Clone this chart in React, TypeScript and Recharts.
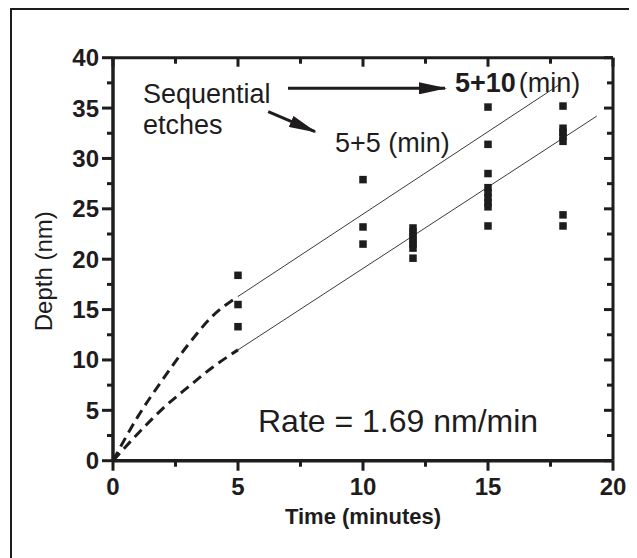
import React from 'react';
import { ComposedChart, XAxis, YAxis, Scatter, Line, ReferenceLine, ReferenceDot } from 'recharts';

const INK = '#1e1c1d';
const FONT = '"Liberation Sans", Arial, Helvetica, sans-serif';

// axis ticks
const xTicks = [0, 2.5, 5, 7.5, 10, 12.5, 15, 17.5, 20];
const yTicks = [0, 2.5, 5, 7.5, 10, 12.5, 15, 17.5, 20, 22.5, 25, 27.5, 30, 32.5, 35, 37.5, 40];

// measured depths (nm) at each etch time (minutes)
const times = [5, 10, 12, 15, 18];
const depthsAt5 = [18.4, 15.5, 13.3];
const depthsAt10 = [27.9, 23.2, 21.5];
const depthsAt12 = [23.1, 22.7, 22.3, 21.9, 21.5, 21.1, 20.1];
const depthsAt15 = [35.1, 31.4, 28.5, 27.1, 26.6, 26.1, 25.6, 25.2, 23.3];
const depthsAt18 = [35.2, 33.0, 32.6, 32.2, 31.7, 24.4, 23.3];
const depthGroups = [depthsAt5, depthsAt10, depthsAt12, depthsAt15, depthsAt18];

// linear fits (solid)
const upperFitX = [5, 17.9];
const upperFitY = [16.3, 37.4];
const lowerFitX = [5, 19.35];
const lowerFitY = [11.0, 34.2];

// initial etch curves (dashed)
const earlyX = [0, 1, 2, 3, 4, 5];
const upperEarlyY = [0, 4.4, 8.1, 11.5, 14.4, 16.3];
const lowerEarlyY = [0, 2.7, 5.2, 7.3, 9.3, 11.0];

const points = times.flatMap((t, i) => depthGroups[i].map((d) => ({ x: t, y: d })));
const zip = (xs: number[], ys: number[]) => xs.map((x, i) => ({ x, y: ys[i] }));
const upperFit = zip(upperFitX, upperFitY);
const lowerFit = zip(lowerFitX, lowerFitY);
const upperEarly = zip(earlyX, upperEarlyY);
const lowerEarly = zip(earlyX, lowerEarlyY);

const BottomTick = (p: any) => {
  const { x, y, payload } = p;
  const major = payload.value % 5 === 0;
  return (
    <g>
      <line x1={x} x2={x} y1={y} y2={y + (major ? 10 : 6)} stroke={INK} strokeWidth={3} />
      {major && (
        <text x={x} y={y + 34} textAnchor="middle" fontSize={24} fontWeight="bold" fill={INK} fontFamily={FONT}>
          {payload.value}
        </text>
      )}
    </g>
  );
};

const LeftTick = (p: any) => {
  const { x, y, payload } = p;
  const major = payload.value % 5 === 0;
  return (
    <g>
      <line x1={x - (major ? 11 : 6)} x2={x} y1={y} y2={y} stroke={INK} strokeWidth={3} />
      {major && (
        <text x={x - 14} y={y + 8.5} textAnchor="end" fontSize={24} fontWeight="bold" fill={INK} fontFamily={FONT}>
          {payload.value}
        </text>
      )}
    </g>
  );
};

const TopTick = (p: any) => {
  const { x, y, payload } = p;
  const major = payload.value % 5 === 0;
  return <line x1={x} x2={x} y1={y} y2={y + (major ? 9 : 6)} stroke={INK} strokeWidth={3} />;
};

const RightTick = (p: any) => {
  const { x, y, payload } = p;
  const major = payload.value % 5 === 0;
  return <line x1={x - (major ? 9 : 6)} x2={x} y1={y} y2={y} stroke={INK} strokeWidth={3} />;
};

const XTitle = (p: any) => {
  const vb = p.viewBox || {};
  return (
    <text x={vb.x + vb.width / 2} y={vb.y + 63} textAnchor="middle" fontSize={22} fontWeight="bold" fill={INK} fontFamily={FONT}>
      Time (minutes)
    </text>
  );
};

const YTitle = (p: any) => {
  const vb = p.viewBox || {};
  const cx = vb.x + vb.width - 61;
  const cy = vb.y + vb.height / 2 + 12;
  return (
    <text x={cx} y={cy} transform={`rotate(-90 ${cx} ${cy})`} textAnchor="middle" fontSize={24} fill={INK} fontFamily={FONT}>
      Depth (nm)
    </text>
  );
};

const Square = (p: any) => <rect x={p.cx - 3.75} y={p.cy - 3.75} width={7.5} height={7.5} fill={INK} />;

const textShape = (content: React.ReactNode, size: number) => (p: any) => (
  <text x={p.cx} y={p.cy} fontSize={size} fill={INK} fontFamily={FONT}>
    {content}
  </text>
);

export default function App() {
  return (
    <div style={{ position: 'relative', width: 629, height: 550, overflow: 'hidden', background: '#fff' }}>
      <div
        style={{
          position: 'absolute',
          left: 2,
          top: 0,
          width: 900,
          height: 900,
          borderLeft: `2px solid ${INK}`,
          borderTop: `2px solid ${INK}`,
        }}
      />
      <div style={{ position: 'absolute', left: 0, top: 0 }}>
        <ComposedChart width={629} height={550} margin={{ top: 39.7, right: 14, bottom: 37.3, left: 45 }}>
          <defs>
            <marker id="arrowHead" markerUnits="userSpaceOnUse" markerWidth={28} markerHeight={12} refX={26} refY={6} orient="auto">
              <path d="M0,0 L28,6 L0,12 z" fill={INK} />
            </marker>
          </defs>
          <XAxis
            xAxisId={0}
            type="number"
            dataKey="x"
            domain={[0, 20]}
            ticks={xTicks}
            interval={0}
            height={60}
            tickSize={0}
            tickMargin={0}
            tickLine={false}
            tick={<BottomTick />}
            axisLine={{ stroke: INK, strokeWidth: 3.5 }}
            allowDataOverflow
            label={<XTitle />}
          />
          <XAxis
            xAxisId="top"
            orientation="top"
            type="number"
            dataKey="x"
            domain={[0, 20]}
            ticks={xTicks}
            interval={0}
            height={10}
            tickSize={0}
            tickMargin={0}
            tickLine={false}
            tick={<TopTick />}
            axisLine={{ stroke: INK, strokeWidth: 3 }}
            allowDataOverflow
          />
          <YAxis
            yAxisId={0}
            type="number"
            domain={[0, 40]}
            ticks={yTicks}
            interval={0}
            width={60}
            tickSize={0}
            tickMargin={0}
            tickLine={false}
            tick={<LeftTick />}
            axisLine={{ stroke: INK, strokeWidth: 3.5 }}
            allowDataOverflow
            label={<YTitle />}
          />
          <YAxis
            yAxisId="right"
            orientation="right"
            type="number"
            domain={[0, 40]}
            ticks={yTicks}
            interval={0}
            width={10}
            tickSize={0}
            tickMargin={0}
            tickLine={false}
            tick={<RightTick />}
            axisLine={{ stroke: INK, strokeWidth: 3 }}
            allowDataOverflow
          />

          <Line data={upperEarly} dataKey="y" type="monotone" stroke={INK} strokeWidth={3} strokeDasharray="10 6" dot={false} isAnimationActive={false} />
          <Line data={lowerEarly} dataKey="y" type="monotone" stroke={INK} strokeWidth={3} strokeDasharray="10 6" dot={false} isAnimationActive={false} />
          <Line data={upperFit} dataKey="y" type="linear" stroke="#3a3a3a" strokeWidth={1} dot={false} isAnimationActive={false} />
          <Line data={lowerFit} dataKey="y" type="linear" stroke="#3a3a3a" strokeWidth={1} dot={false} isAnimationActive={false} />
          <Scatter data={points} dataKey="y" shape={<Square />} isAnimationActive={false} />

          <ReferenceLine
            segment={[{ x: 7.0, y: 36.96 }, { x: 13.28, y: 36.96 }]}
            stroke={INK}
            strokeWidth={3}
            markerEnd="url(#arrowHead)"
          />
          <ReferenceLine
            segment={[{ x: 6.21, y: 34.64 }, { x: 8.08, y: 32.66 }]}
            stroke={INK}
            strokeWidth={3}
            markerEnd="url(#arrowHead)"
          />

          <ReferenceDot x={1.2} y={35.5} r={0} shape={textShape('Sequential', 27)} />
          <ReferenceDot x={1.2} y={32.4} r={0} shape={textShape('etches', 27)} />
          <ReferenceDot
            x={13.68}
            y={36.6}
            r={0}
            shape={textShape(
              <>
                <tspan fontWeight="bold">5+10</tspan>
                <tspan dx={3}>(min)</tspan>
              </>,
              27
            )}
          />
          <ReferenceDot x={8.88} y={30.67} r={0} shape={textShape('5+5 (min)', 27)} />
          <ReferenceDot x={5.8} y={2.85} r={0} shape={textShape('Rate = 1.69 nm/min', 32)} />
        </ComposedChart>
      </div>
    </div>
  );
}
